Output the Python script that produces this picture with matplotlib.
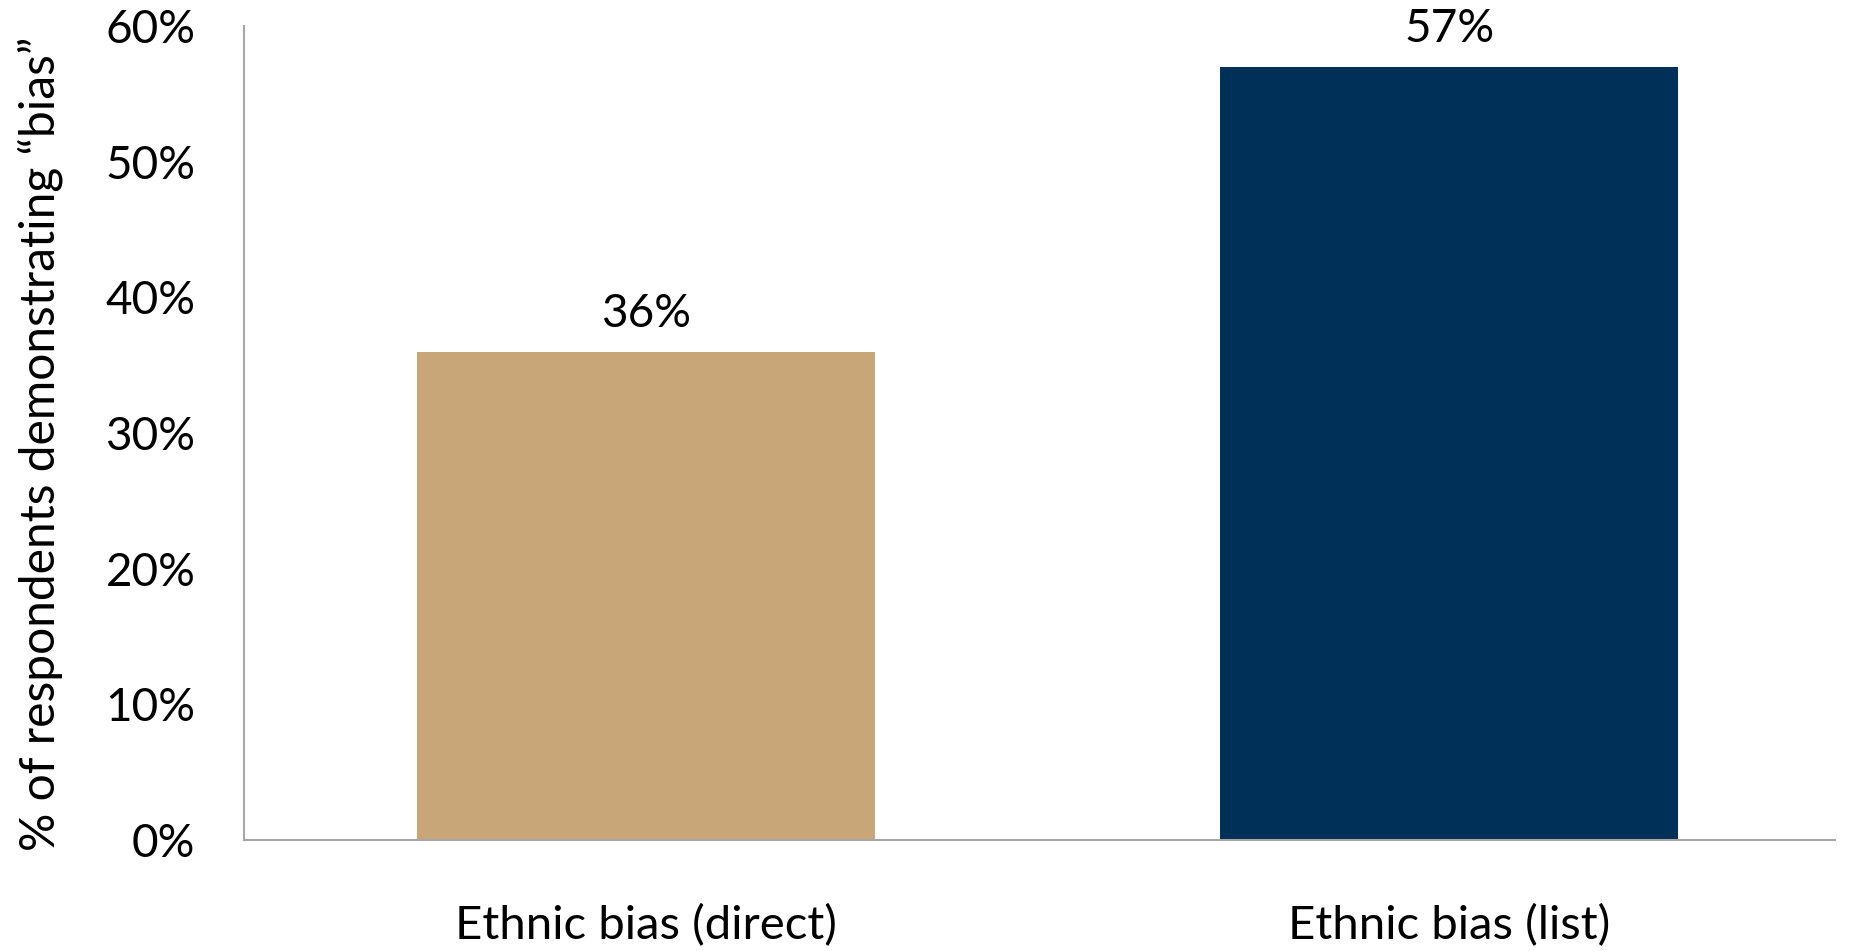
import matplotlib
matplotlib.use("Agg")
import matplotlib.pyplot as plt
from matplotlib.ticker import FuncFormatter

categories = ["Ethnic bias (direct)", "Ethnic bias (list)"]
values = [0.36, 0.57]
bar_labels = ["36%", "57%"]
colors = ["#C8A677", "#003057"]

plt.rcParams['font.family'] = ['Lato', 'DejaVu Sans']

fig = plt.figure(figsize=(18.57, 9.51), dpi=100)
ax = fig.add_axes([244 / 1857, 1 - 840 / 951, (1835 - 244) / 1857, (840 - 26) / 951])

x = range(len(categories))
bars = ax.bar(x, values, width=0.57, color=colors)

for b, lab in zip(bars, bar_labels):
    ax.annotate(lab, (b.get_x() + b.get_width() / 2, b.get_height()),
                xytext=(0, 12), textcoords="offset points",
                ha="center", va="bottom", fontsize=33)

ax.set_xlim(-0.5, 1.48)
ax.set_ylim(0, 0.6)
ax.set_yticks([0, 0.1, 0.2, 0.3, 0.4, 0.5, 0.6])
ax.yaxis.set_major_formatter(FuncFormatter(lambda v, p: f"{v * 100:.0f}%"))
ax.set_xticks(list(x))
ax.set_xticklabels(categories, fontsize=34)
ax.tick_params(axis="both", length=0)
ax.tick_params(axis="y", pad=35, labelsize=33)
ax.tick_params(axis="x", pad=46)

ax.set_ylabel("% of respondents demonstrating \u201cbias\u201d", fontsize=34.5)
ax.yaxis.set_label_coords(-0.114, 0.487)

for s in ["top", "right"]:
    ax.spines[s].set_visible(False)
for s in ["left", "bottom"]:
    ax.spines[s].set_color("#A6A6A6")
    ax.spines[s].set_linewidth(1.5)

fig.savefig("out.png", dpi=100)
